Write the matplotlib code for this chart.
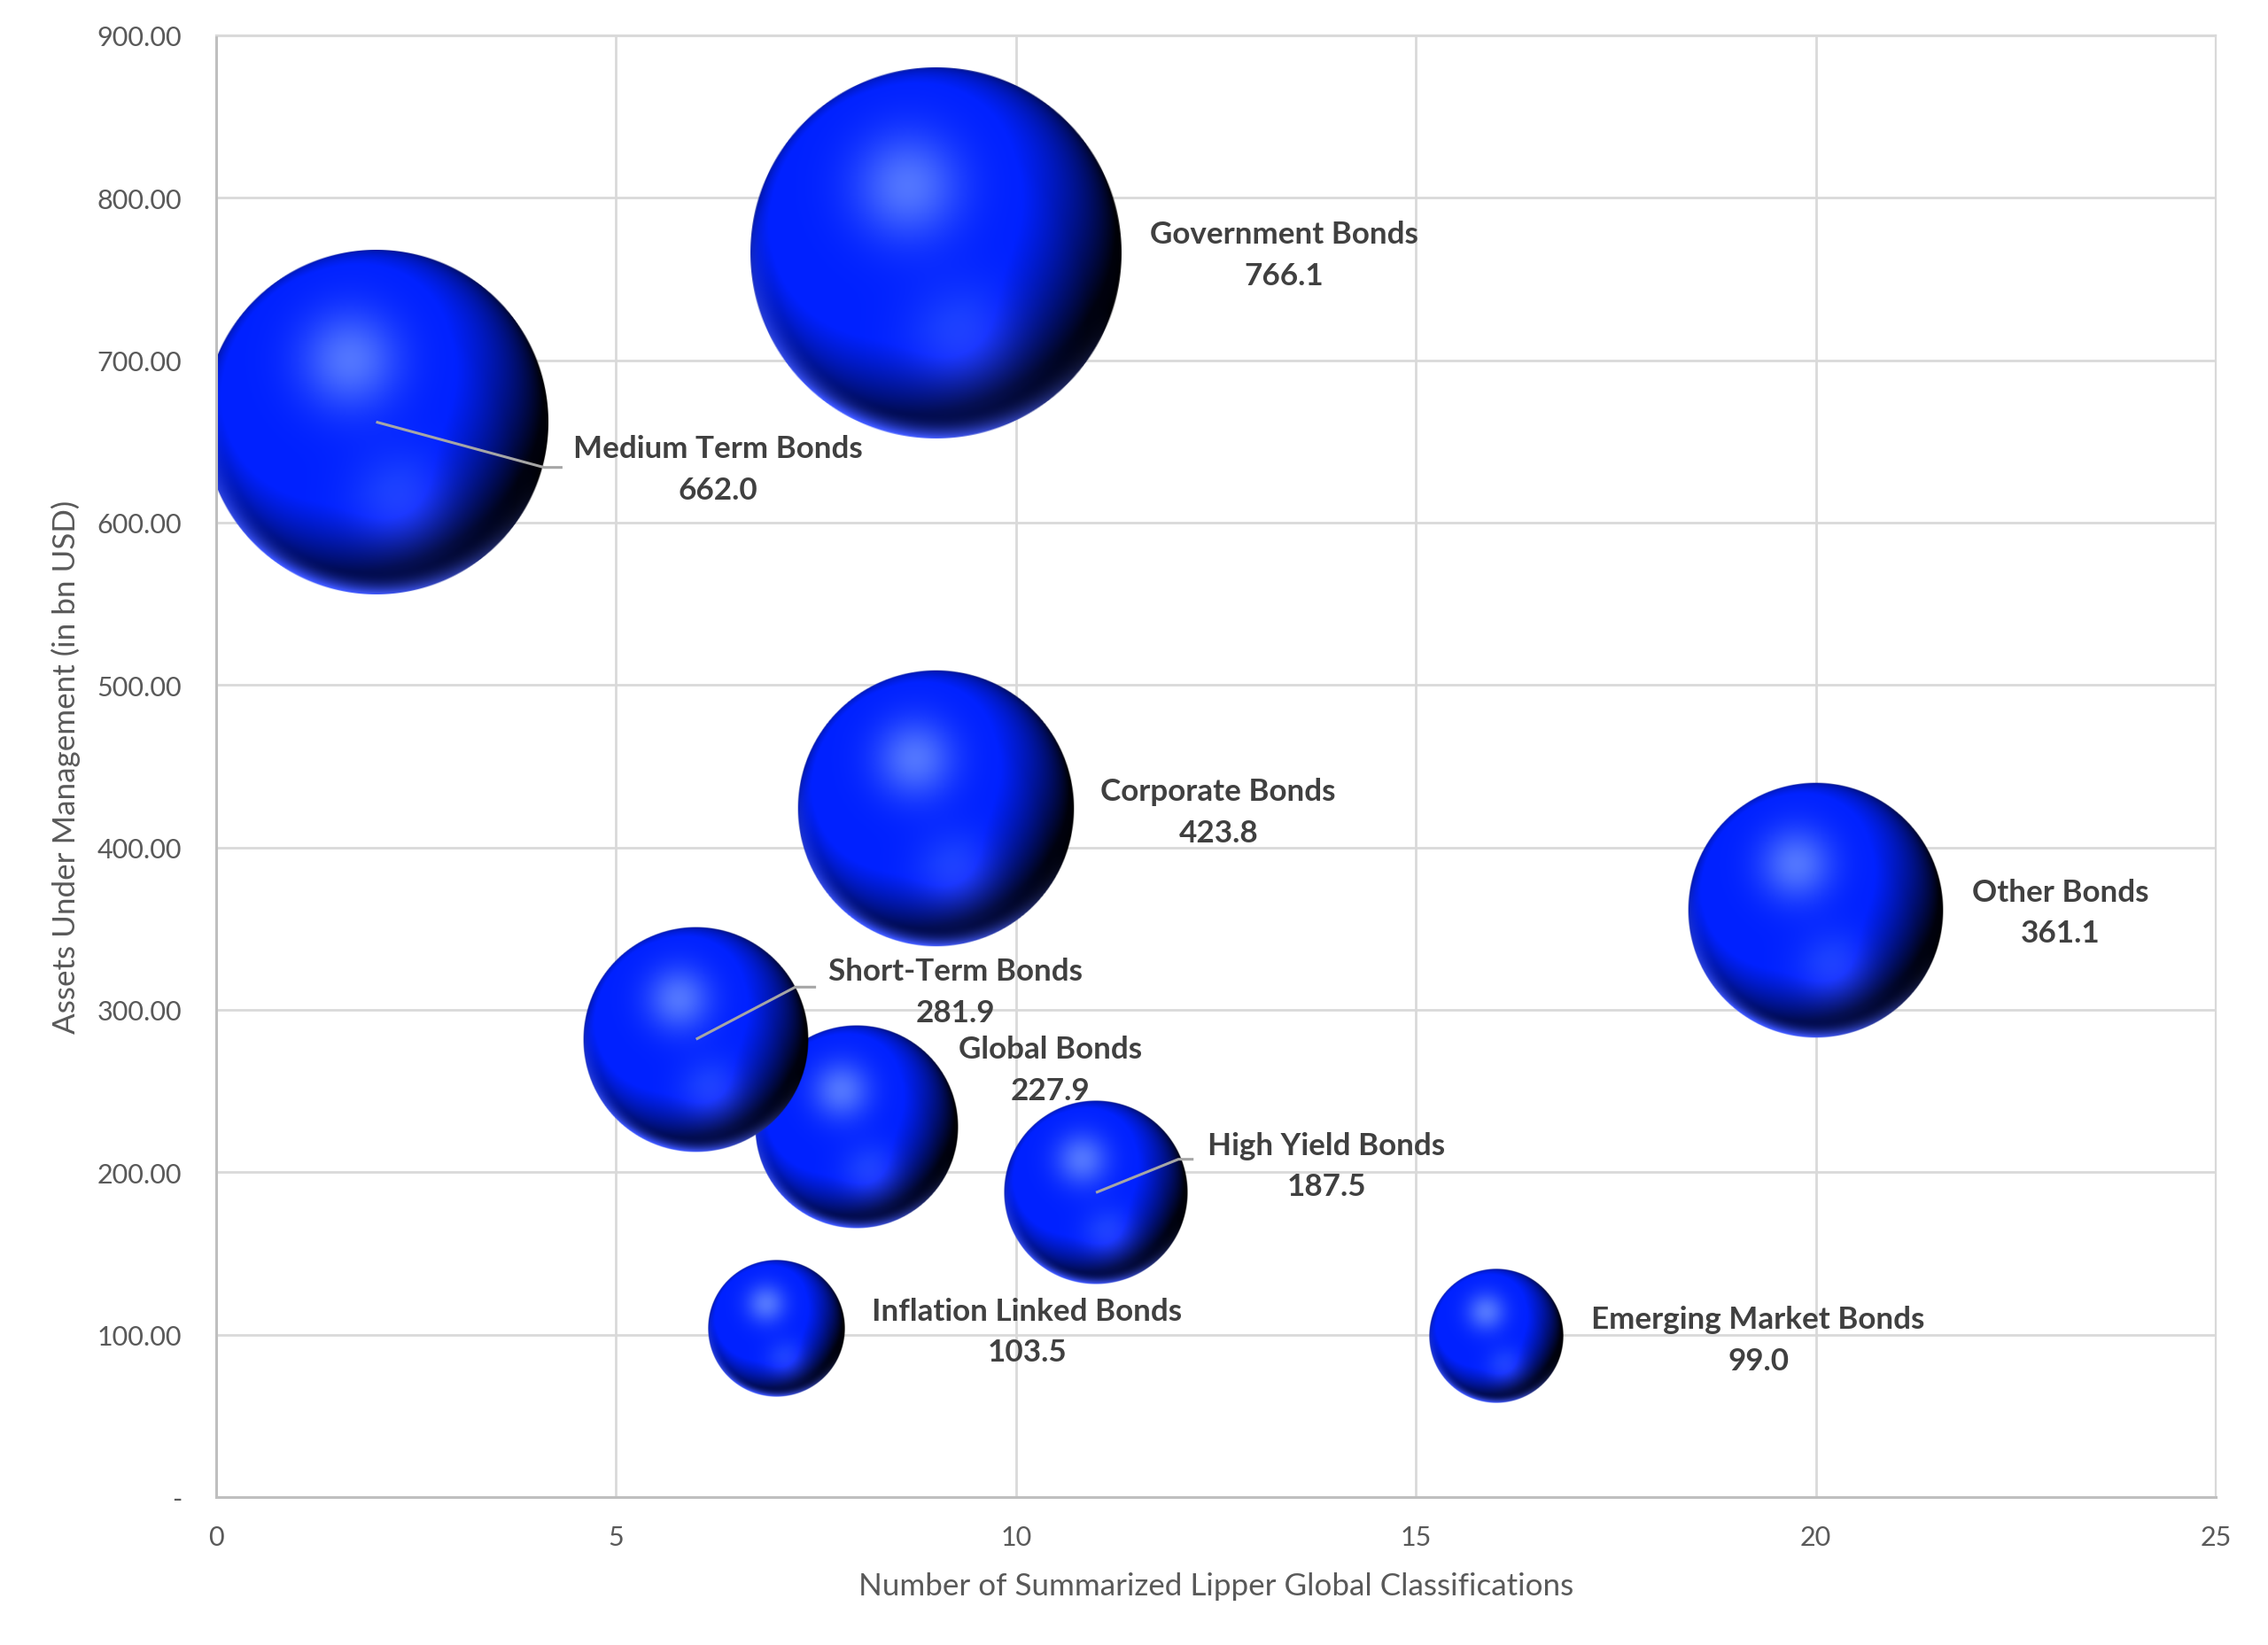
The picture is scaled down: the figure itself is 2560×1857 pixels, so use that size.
import numpy as np
import matplotlib.pyplot as plt
from matplotlib.ticker import FuncFormatter, MultipleLocator

# ── DATA ──────────────────────────────────────────────────────────────────────
categories = ['Government Bonds', 'Medium Term Bonds', 'Corporate Bonds', 'Other Bonds',
              'Global Bonds', 'Short-Term Bonds', 'High Yield Bonds',
              'Inflation Linked Bonds', 'Emerging Market Bonds']
n_classes = [9, 2, 9, 20, 8, 6, 11, 7, 16]                      # x
aum = [766.1, 662.0, 423.8, 361.1, 227.9, 281.9, 187.5, 103.5, 99.0]  # y and bubble size

# label centres (data coords) and leader elbows
label_pos = [(13.35, 765), (6.27, 633), (12.53, 422), (23.06, 360),
             (10.43, 263), (9.24, 311), (13.88, 204), (10.14, 102), (19.28, 97)]
leaders = {1: [(4.10, 634), (4.33, 634)],
           5: [(7.24, 314), (7.50, 314)],
           6: [(12.03, 208), (12.22, 208)]}

FONT = 'Lato'
TICK_COL = '#595959'
LABEL_COL = '#404040'


# ── SPHERE SHADING ────────────────────────────────────────────────────────────
def sphere_rgba(n=401):
    t = np.linspace(-1, 1, n)
    u, v = np.meshgrid(t, -t)
    r = np.sqrt(u**2 + v**2)
    nz = np.sqrt(np.clip(1 - r**2, 0, 1))

    # key light from upper left
    L = np.array([-0.3, 0.6, 1.0])
    L /= np.linalg.norm(L)
    d = np.clip(u * L[0] + v * L[1] + nz * L[2], 0, 1)
    key = np.clip(d / 0.85, 0, 1) ** 1.2

    # weak fill from lower left keeps the bottom navy, right edge black
    F = np.array([-0.55, -0.45, 0.65])
    F /= np.linalg.norm(F)
    fill = np.clip(u * F[0] + v * F[1] + nz * F[2], 0, 1)

    inten = np.clip(key + 0.3 * fill + 0.15 * nz, 0, 1)
    base = np.array([0.0, 0.13, 1.0])
    rgb = inten[..., None] * base

    # soft highlight, upper left
    hl = np.exp(-((u + 0.15)**2 + (v - 0.36)**2) / (2 * 0.2**2))
    rgb += hl[..., None] * np.array([0.32, 0.33, 0.0])

    # reflected glow, lower middle
    g = np.exp(-((u - 0.14)**2 + (v + 0.45)**2) / (2 * 0.2**2))
    rgb += g[..., None] * np.array([0.12, 0.14, 0.3])

    # bright rim along the bottom edge
    rd = np.array([-0.3, -0.95])
    rd /= np.linalg.norm(rd)
    rim = np.clip((u * rd[0] + v * rd[1]) / np.maximum(r, 1e-6), 0, 1) ** 1.2
    rim *= np.clip((r - 0.87) / 0.13, 0, 1) ** 2
    rgb += rim[..., None] * np.array([0.28, 0.36, 0.9])

    rgb = np.clip(rgb, 0, 1)
    alpha = np.clip((1 - r) * n / 2, 0, 1)
    return np.dstack([rgb, alpha])


# ── FIGURE ────────────────────────────────────────────────────────────────────
W, H, DPI = 2560, 1858, 200
fig = plt.figure(figsize=(W / DPI, H / DPI), dpi=DPI)
ax_l, ax_r, ax_t, ax_b = 244, 2501, 41, 1691
ax = fig.add_axes([ax_l / W, 1 - ax_b / H, (ax_r - ax_l) / W, (ax_b - ax_t) / H])

XMAX, YMAX = 25, 900
px_per_x = (ax_r - ax_l) / XMAX
px_per_y = (ax_b - ax_t) / YMAX
r_max_px = 0.1273 * (ax_b - ax_t)

img = sphere_rgba()
for i, (x, y, s) in enumerate(zip(n_classes, aum, aum)):
    rp = r_max_px * np.sqrt(s / max(aum))
    rx, ry = rp / px_per_x, rp / px_per_y
    ax.imshow(img, extent=[x - rx, x + rx, y - ry, y + ry], aspect='auto',
              interpolation='bilinear', zorder=2 + i * 0.01)

for i, pts in leaders.items():
    xs = [n_classes[i]] + [p[0] for p in pts]
    ys = [aum[i]] + [p[1] for p in pts]
    ax.plot(xs, ys, color='#A6A6A6', lw=1.1, zorder=3, solid_capstyle='butt')

for i, name in enumerate(categories):
    lx, ly = label_pos[i]
    ax.text(lx, ly, f"{name}\n{aum[i]:.1f}", ha='center', va='center', fontsize=12.6,
            fontweight='bold', color=LABEL_COL, family=FONT, linespacing=1.57, zorder=4)

ax.set_xlim(0, XMAX)
ax.set_ylim(0, YMAX)
ax.xaxis.set_major_locator(MultipleLocator(5))
ax.yaxis.set_major_locator(MultipleLocator(100))
ax.yaxis.set_major_formatter(FuncFormatter(lambda v, p: '-' if v == 0 else f"{v:.2f}"))
ax.grid(True, color='#D9D9D9', lw=1.0)
ax.set_axisbelow(True)
ax.tick_params(length=0, labelsize=11, labelcolor=TICK_COL)
ax.tick_params(axis='y', pad=14)
ax.tick_params(axis='x', pad=11)
for lab in ax.get_xticklabels() + ax.get_yticklabels():
    lab.set_family(FONT)
for side in ['top', 'right']:
    ax.spines[side].set_color('#D9D9D9')
for side in ['left', 'bottom']:
    ax.spines[side].set_color('#BFBFBF')
    ax.spines[side].set_linewidth(1.1)

fig.text((ax_l + ax_r) / 2 / W, 1 - 1791 / H, 'Number of Summarized Lipper Global Classifications',
         ha='center', va='center', fontsize=12.6, color=TICK_COL, family=FONT)
fig.text(74 / W, 1 - (ax_t + ax_b) / 2 / H, 'Assets Under Management (in bn USD)',
         ha='center', va='center', rotation=90, fontsize=12.6, color=TICK_COL, family=FONT)

fig.savefig('out.png', dpi=DPI)
